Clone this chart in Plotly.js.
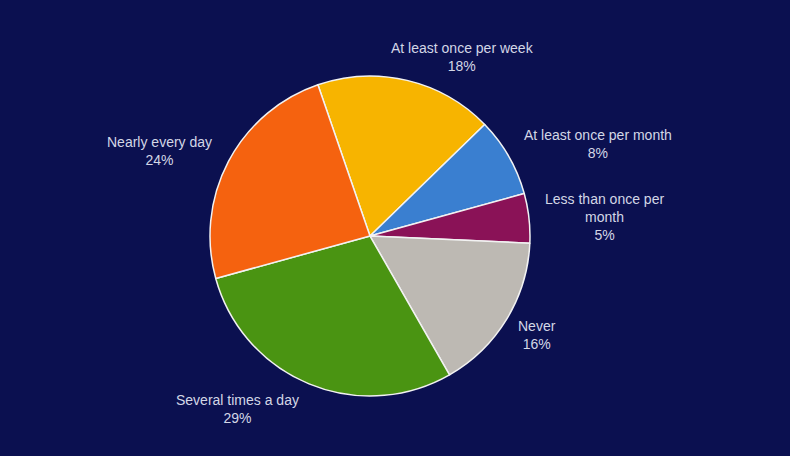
<!DOCTYPE html>
<html>
<head>
<meta charset="utf-8">
<script src="https://cdn.plot.ly/plotly-3.0.1.min.js"></script>
<style>
html,body{margin:0;padding:0;background:#0b1050;}
#chart{width:790px;height:456px;}
</style>
</head>
<body>
<div id="chart"></div>
<script>
const categories = [
  "At least once per week",
  "At least once per month",
  "Less than once per month",
  "Never",
  "Several times a day",
  "Nearly every day"
];
const values = [18, 8, 5, 16, 29, 24];
const displayLabels = [
  "At least once per week",
  "At least once per month",
  "Less than once per<br>month",
  "Never",
  "Several times a day",
  "Nearly every day"
];
const sliceColors = ["#f7b400", "#3a7fd0", "#8a1257", "#bdb9b3", "#4a9412", "#f5620f"];
// label anchor positions (paper coords)
const labelX = [0.586, 0.757, 0.765, 0.680, 0.300, 0.2025];
const labelY = [0.876, 0.685, 0.525, 0.266, 0.102, 0.668];

const total = values.reduce((a, b) => a + b, 0);
const annotations = categories.map((c, i) => ({
  xref: "paper", yref: "paper",
  x: labelX[i], y: labelY[i],
  xanchor: "center", yanchor: "middle",
  showarrow: false, align: "center",
  text: displayLabels[i] + "<br>" + Math.round(values[i] / total * 100) + "%",
  font: {family: "Liberation Sans, Arial, sans-serif", size: 14, color: "#d3d7e6"}
}));

const trace = {
  type: "pie",
  labels: categories,
  values: values,
  sort: false,
  direction: "clockwise",
  rotation: -19,
  textinfo: "none",
  hoverinfo: "label+percent",
  marker: {colors: sliceColors, line: {color: "#f2f2f2", width: 1.5}},
  domain: {x: [0.2658, 0.6709], y: [0.1316, 0.8333]},
  showlegend: false
};

const layout = {
  width: 790, height: 456,
  margin: {l: 0, r: 0, t: 0, b: 0},
  paper_bgcolor: "#0b1050",
  plot_bgcolor: "#0b1050",
  showlegend: false,
  annotations: annotations
};

Plotly.newPlot("chart", [trace], layout, {displayModeBar: false, staticPlot: true});
</script>
</body>
</html>
